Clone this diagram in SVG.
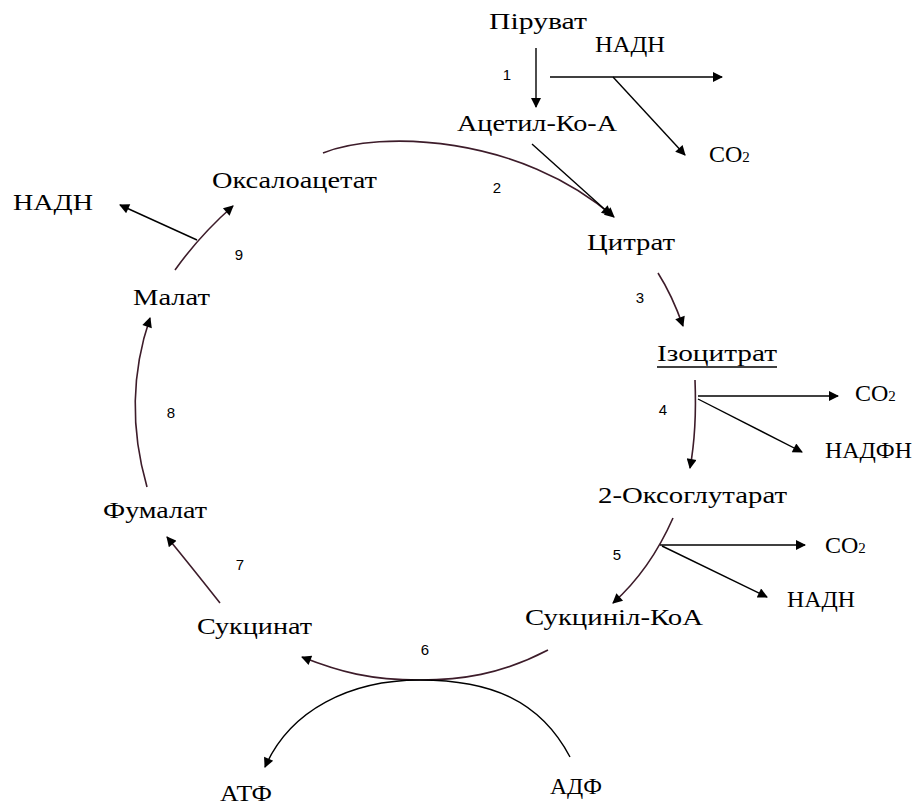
<svg xmlns="http://www.w3.org/2000/svg" width="915" height="808" viewBox="0 0 915 808">
<style>
.t{font-family:"Liberation Serif","Times New Roman",serif;font-size:24px;fill:#000}
.n{font-family:"Liberation Sans",Arial,sans-serif;font-size:15px;fill:#000;text-anchor:middle}
.c{fill:none;stroke:#3d1c2a;stroke-width:1.6}
.s{fill:none;stroke:#000;stroke-width:1.4}
.sub{font-size:15px}
</style>
<defs>
<marker id="ah" viewBox="0 0 10 10" refX="9" refY="5" markerWidth="13" markerHeight="10" markerUnits="userSpaceOnUse" orient="auto">
<path d="M0,0 L10,5 L0,10 Z" fill="#000"/>
</marker>
</defs>
<rect width="915" height="808" fill="#fff"/>
<g id="connectors">
<path class="s" d="M536,48 L536,107" marker-end="url(#ah)"/>
<path class="s" d="M550,77 L722,77" marker-end="url(#ah)"/>
<path class="s" d="M613,77 L685,155" marker-end="url(#ah)"/>
<path class="c" d="M323,153 C380,130 520,135 614,217" marker-end="url(#ah)"/>
<path class="s" d="M532,144 L611,215" marker-end="url(#ah)"/>
<path class="c" d="M658,273 Q672,295 683,326" marker-end="url(#ah)"/>
<path class="c" d="M695,380 Q697,430 690,468" marker-end="url(#ah)"/>
<path class="s" d="M698,396 L838,396" marker-end="url(#ah)"/>
<path class="s" d="M698,399 L802,452" marker-end="url(#ah)"/>
<path class="c" d="M673,518 Q650,570 613,603" marker-end="url(#ah)"/>
<path class="s" d="M660,545 L805,545" marker-end="url(#ah)"/>
<path class="s" d="M662,546 L767,597" marker-end="url(#ah)"/>
<path class="c" d="M548,650 C500,675 460,680 420,680 C370,680 340,672 302,657" marker-end="url(#ah)"/>
<path class="s" d="M570,757 C540,700 490,680 420,680 C350,680 290,710 265,767" marker-end="url(#ah)"/>
<path class="c" d="M220,603 Q190,565 167,537" marker-end="url(#ah)"/>
<path class="c" d="M147,487 Q122,400 150,318" marker-end="url(#ah)"/>
<path class="c" d="M175,270 Q200,235 233,206" marker-end="url(#ah)"/>
<path class="s" d="M197,240 L120,205" marker-end="url(#ah)"/>
</g>
<g id="pyruvate"><text class="t" x="489" y="29" font-size="26" textLength="98" lengthAdjust="spacingAndGlyphs">Піруват</text></g>
<g id="nadh1"><text class="t" x="595" y="52" textLength="70" lengthAdjust="spacingAndGlyphs">НАДН</text></g>
<g id="co2-1"><text class="t" x="709" y="162">CO<tspan class="sub">2</tspan></text></g>
<g id="acetyl"><text class="t" x="457" y="131" textLength="160" lengthAdjust="spacingAndGlyphs">Ацетил-Ко-А</text></g>
<g id="oxaloacetate"><text class="t" x="212" y="188" textLength="165" lengthAdjust="spacingAndGlyphs">Оксалоацетат</text></g>
<g id="citrate"><text class="t" x="587" y="250" textLength="88" lengthAdjust="spacingAndGlyphs">Цитрат</text></g>
<g id="isocitrate"><text class="t" x="657" y="361" textLength="120" lengthAdjust="spacingAndGlyphs">Ізоцитрат</text><line x1="657" y1="367" x2="777" y2="367" stroke="#000" stroke-width="1.3"/></g>
<g id="co2-2"><text class="t" x="855" y="401">CO<tspan class="sub">2</tspan></text></g>
<g id="nadph"><text class="t" x="825" y="458" textLength="87" lengthAdjust="spacingAndGlyphs">НАДФН</text></g>
<g id="oxoglutarate"><text class="t" x="598" y="503" textLength="189" lengthAdjust="spacingAndGlyphs">2-Оксоглутарат</text></g>
<g id="co2-3"><text class="t" x="825" y="553">CO<tspan class="sub">2</tspan></text></g>
<g id="nadh2"><text class="t" x="787" y="607" textLength="68" lengthAdjust="spacingAndGlyphs">НАДН</text></g>
<g id="succinylcoa"><text class="t" x="525" y="625" textLength="178" lengthAdjust="spacingAndGlyphs">Сукциніл-КоА</text></g>
<g id="succinate"><text class="t" x="197" y="634" textLength="115" lengthAdjust="spacingAndGlyphs">Сукцинат</text></g>
<g id="atp"><text class="t" x="220" y="801" textLength="52" lengthAdjust="spacingAndGlyphs">АТФ</text></g>
<g id="adp"><text class="t" x="550" y="794" textLength="52" lengthAdjust="spacingAndGlyphs">АДФ</text></g>
<g id="fumarate"><text class="t" x="103" y="518" textLength="104" lengthAdjust="spacingAndGlyphs">Фумалат</text></g>
<g id="malate"><text class="t" x="133" y="305" textLength="77" lengthAdjust="spacingAndGlyphs">Малат</text></g>
<g id="nadh3"><text class="t" x="13" y="210" font-size="27" textLength="80" lengthAdjust="spacingAndGlyphs">НАДН</text></g>
<g id="labels">
<text class="n" x="507" y="80">1</text>
<text class="n" x="497" y="193">2</text>
<text class="n" x="640" y="303">3</text>
<text class="n" x="663" y="415">4</text>
<text class="n" x="617" y="560">5</text>
<text class="n" x="425" y="655">6</text>
<text class="n" x="240" y="570">7</text>
<text class="n" x="171" y="418">8</text>
<text class="n" x="239" y="260">9</text>
</g>
</svg>
